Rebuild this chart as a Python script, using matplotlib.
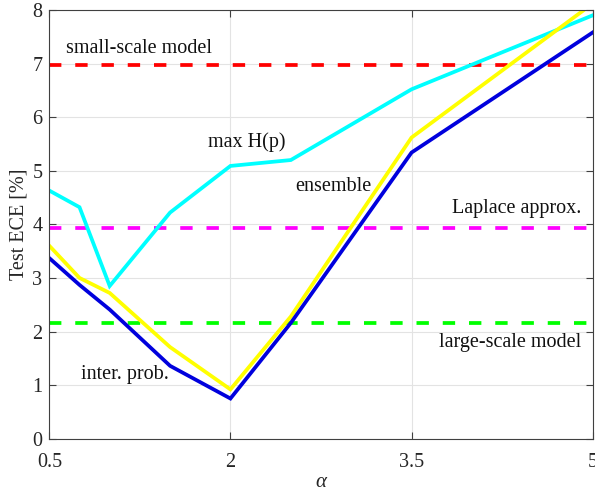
import matplotlib
matplotlib.use("Agg")
import matplotlib.pyplot as plt

alpha = [0.5, 0.75, 1.0, 1.5, 2.0, 2.5, 3.5, 5.0]
max_h = [4.63, 4.32, 2.85, 4.22, 5.09, 5.20, 6.52, 7.90]
ensemble = [3.60, 3.00, 2.72, 1.71, 0.92, 2.28, 5.62, 8.12]
inter_prob = [3.37, 2.87, 2.41, 1.36, 0.75, 2.16, 5.34, 7.58]

small_scale = 6.97
laplace = 3.94
large_scale = 2.16

xticks = [0.5, 2, 3.5, 5]
yticks = [0, 1, 2, 3, 4, 5, 6, 7, 8]

plt.rcParams['font.family'] = ['Liberation Serif', 'DejaVu Serif']
fs = 14.5
plt.rcParams['font.size'] = fs

fig = plt.figure(figsize=(5.95, 4.94), dpi=100)
ax = fig.add_axes([0.0829, 0.1119, 0.9132, 0.8679])

lw = 2.7
dash = (3.3, 3.7)
ax.plot([alpha[0], alpha[-1]], [small_scale] * 2, color='#ff0000', lw=lw, dashes=dash)
ax.plot([alpha[0], alpha[-1]], [laplace] * 2, color='#ff00ff', lw=lw, dashes=dash)
ax.plot([alpha[0], alpha[-1]], [large_scale] * 2, color='#00ff00', lw=lw, dashes=dash)
ax.plot(alpha, max_h, color='#00ffff', lw=lw, solid_joinstyle='miter')
ax.plot(alpha, ensemble, color='#ffff00', lw=lw, solid_joinstyle='miter')
ax.plot(alpha, inter_prob, color='#0000dd', lw=lw, solid_joinstyle='miter')

ax.set_xlim(0.5, 5)
ax.set_ylim(0, 8)
ax.set_xticks(xticks)
ax.set_xticklabels(['0.5', '2', '3.5', '5'])
ax.set_yticks(yticks)
ax.grid(True, color='#e3e3e3', lw=0.8)
ax.set_axisbelow(True)
ax.tick_params(direction='in', top=True, right=True, length=5, width=0.8,
               color='#404040', labelcolor='#262626', labelsize=fs)
ax.tick_params(axis='x', pad=10)
ax.tick_params(axis='y', pad=5)
for s in ax.spines.values():
    s.set_color('#404040')
    s.set_linewidth(0.8)

ax.set_ylabel('Test ECE [%]', fontsize=fs, color='#262626', labelpad=3)
ax.set_xlabel('α', fontsize=fs + 0.5, style='italic', color='#262626', labelpad=1)

tk = dict(fontsize=fs, color='#111111', va='center')
ax.text(0.636, 7.29, 'small-scale model', ha='left', **tk)
ax.text(1.817, 5.54, 'max H(p)', ha='left', **tk)
ax.text(2.54, 4.70, 'ensemble', ha='left', **tk)
ax.text(4.909, 4.30, 'Laplace approx.', ha='right', **tk)
ax.text(4.909, 1.80, 'large-scale model', ha='right', **tk)
ax.text(0.762, 1.19, 'inter. prob.', ha='left', **tk)

fig.savefig('out.png', dpi=100)
